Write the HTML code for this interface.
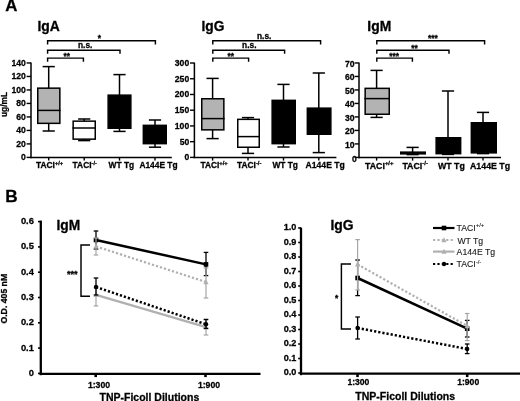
<!DOCTYPE html>
<html><head><meta charset="utf-8"><title>Figure</title>
<style>
html,body{margin:0;padding:0;background:#fff;}
svg{display:block;font-family:'Liberation Sans', sans-serif;}
</style></head><body>
<svg width="520" height="401" viewBox="0 0 520 401">
<defs><filter id="soft" x="-2%" y="-2%" width="104%" height="104%"><feGaussianBlur stdDeviation="0.38"/></filter></defs>
<rect width="520" height="401" fill="#fff"/>
<g filter="url(#soft)">
<text x="5.3" y="11.4" font-size="16.8" text-anchor="start" font-weight="bold" fill="#000" stroke="#000" stroke-width="0.28" >A</text>
<text x="37.5" y="30.7" font-size="13.9" text-anchor="start" font-weight="bold" fill="#000" stroke="#000" stroke-width="0.28" >IgA</text>
<line x1="31" y1="62.6" x2="31" y2="158.15" stroke="#000" stroke-width="1.5" />
<line x1="30.25" y1="157.4" x2="171.8" y2="157.4" stroke="#000" stroke-width="1.5" />
<line x1="26.6" y1="157.4" x2="31" y2="157.4" stroke="#000" stroke-width="1.4" />
<text x="25.8" y="160.4" font-size="8.6" text-anchor="end" font-weight="bold" fill="#000" stroke="#000" stroke-width="0.28" >0</text>
<line x1="26.6" y1="143.91" x2="31" y2="143.91" stroke="#000" stroke-width="1.4" />
<text x="25.8" y="146.91" font-size="8.6" text-anchor="end" font-weight="bold" fill="#000" stroke="#000" stroke-width="0.28" >20</text>
<line x1="26.6" y1="130.42000000000002" x2="31" y2="130.42000000000002" stroke="#000" stroke-width="1.4" />
<text x="25.8" y="133.42000000000002" font-size="8.6" text-anchor="end" font-weight="bold" fill="#000" stroke="#000" stroke-width="0.28" >40</text>
<line x1="26.6" y1="116.93" x2="31" y2="116.93" stroke="#000" stroke-width="1.4" />
<text x="25.8" y="119.93" font-size="8.6" text-anchor="end" font-weight="bold" fill="#000" stroke="#000" stroke-width="0.28" >60</text>
<line x1="26.6" y1="103.44" x2="31" y2="103.44" stroke="#000" stroke-width="1.4" />
<text x="25.8" y="106.44" font-size="8.6" text-anchor="end" font-weight="bold" fill="#000" stroke="#000" stroke-width="0.28" >80</text>
<line x1="26.6" y1="89.95" x2="31" y2="89.95" stroke="#000" stroke-width="1.4" />
<text x="25.8" y="92.95" font-size="8.6" text-anchor="end" font-weight="bold" fill="#000" stroke="#000" stroke-width="0.28" >100</text>
<line x1="26.6" y1="76.46000000000001" x2="31" y2="76.46000000000001" stroke="#000" stroke-width="1.4" />
<text x="25.8" y="79.46000000000001" font-size="8.6" text-anchor="end" font-weight="bold" fill="#000" stroke="#000" stroke-width="0.28" >120</text>
<line x1="26.6" y1="62.97" x2="31" y2="62.97" stroke="#000" stroke-width="1.4" />
<text x="25.8" y="65.97" font-size="8.6" text-anchor="end" font-weight="bold" fill="#000" stroke="#000" stroke-width="0.28" >140</text>
<line x1="48.7" y1="157.4" x2="48.7" y2="160.6" stroke="#000" stroke-width="1.4" />
<line x1="84.2" y1="157.4" x2="84.2" y2="160.6" stroke="#000" stroke-width="1.4" />
<line x1="119.5" y1="157.4" x2="119.5" y2="160.6" stroke="#000" stroke-width="1.4" />
<line x1="155" y1="157.4" x2="155" y2="160.6" stroke="#000" stroke-width="1.4" />
<line x1="48.7" y1="66.6" x2="48.7" y2="131" stroke="#000" stroke-width="1.5" />
<line x1="42.6" y1="66.6" x2="54.800000000000004" y2="66.6" stroke="#000" stroke-width="1.5" />
<line x1="42.6" y1="131" x2="54.800000000000004" y2="131" stroke="#000" stroke-width="1.5" />
<rect x="37.75" y="88.15" width="22.1" height="35.19999999999999" fill="#b3b3b3" stroke="#000" stroke-width="1.5"/>
<line x1="37" y1="110.4" x2="60.6" y2="110.4" stroke="#000" stroke-width="1.5" />
<line x1="84.2" y1="119" x2="84.2" y2="140.6" stroke="#000" stroke-width="1.5" />
<line x1="78.10000000000001" y1="119" x2="90.3" y2="119" stroke="#000" stroke-width="1.5" />
<line x1="78.10000000000001" y1="140.6" x2="90.3" y2="140.6" stroke="#000" stroke-width="1.5" />
<rect x="73.15" y="121.15" width="22.099999999999994" height="18.0" fill="#fff" stroke="#000" stroke-width="1.5"/>
<line x1="72.4" y1="128" x2="96" y2="128" stroke="#000" stroke-width="1.5" />
<line x1="119.5" y1="74.6" x2="119.5" y2="131.4" stroke="#000" stroke-width="1.5" />
<line x1="113.4" y1="74.6" x2="125.6" y2="74.6" stroke="#000" stroke-width="1.5" />
<line x1="113.4" y1="131.4" x2="125.6" y2="131.4" stroke="#000" stroke-width="1.5" />
<rect x="108.15" y="95.15" width="22.69999999999999" height="33.099999999999994" fill="#000" stroke="#000" stroke-width="1.5"/>
<line x1="155" y1="120" x2="155" y2="147.2" stroke="#000" stroke-width="1.5" />
<line x1="148.9" y1="120" x2="161.1" y2="120" stroke="#000" stroke-width="1.5" />
<line x1="148.9" y1="147.2" x2="161.1" y2="147.2" stroke="#000" stroke-width="1.5" />
<rect x="143.35" y="125.35" width="22.900000000000006" height="18.30000000000001" fill="#000" stroke="#000" stroke-width="1.5"/>
<text x="201.5" y="30.5" font-size="13.8" text-anchor="start" font-weight="bold" fill="#000" stroke="#000" stroke-width="0.28" >IgG</text>
<line x1="194.4" y1="62.6" x2="194.4" y2="158.15" stroke="#000" stroke-width="1.5" />
<line x1="193.65" y1="157.4" x2="336.4" y2="157.4" stroke="#000" stroke-width="1.5" />
<line x1="190.0" y1="157.4" x2="194.4" y2="157.4" stroke="#000" stroke-width="1.4" />
<text x="189.20000000000002" y="160.4" font-size="8.6" text-anchor="end" font-weight="bold" fill="#000" stroke="#000" stroke-width="0.28" >0</text>
<line x1="190.0" y1="141.67000000000002" x2="194.4" y2="141.67000000000002" stroke="#000" stroke-width="1.4" />
<text x="189.20000000000002" y="144.67000000000002" font-size="8.6" text-anchor="end" font-weight="bold" fill="#000" stroke="#000" stroke-width="0.28" >50</text>
<line x1="190.0" y1="125.94" x2="194.4" y2="125.94" stroke="#000" stroke-width="1.4" />
<text x="189.20000000000002" y="128.94" font-size="8.6" text-anchor="end" font-weight="bold" fill="#000" stroke="#000" stroke-width="0.28" >100</text>
<line x1="190.0" y1="110.21000000000001" x2="194.4" y2="110.21000000000001" stroke="#000" stroke-width="1.4" />
<text x="189.20000000000002" y="113.21000000000001" font-size="8.6" text-anchor="end" font-weight="bold" fill="#000" stroke="#000" stroke-width="0.28" >150</text>
<line x1="190.0" y1="94.48" x2="194.4" y2="94.48" stroke="#000" stroke-width="1.4" />
<text x="189.20000000000002" y="97.48" font-size="8.6" text-anchor="end" font-weight="bold" fill="#000" stroke="#000" stroke-width="0.28" >200</text>
<line x1="190.0" y1="78.75" x2="194.4" y2="78.75" stroke="#000" stroke-width="1.4" />
<text x="189.20000000000002" y="81.75" font-size="8.6" text-anchor="end" font-weight="bold" fill="#000" stroke="#000" stroke-width="0.28" >250</text>
<line x1="190.0" y1="63.02000000000001" x2="194.4" y2="63.02000000000001" stroke="#000" stroke-width="1.4" />
<text x="189.20000000000002" y="66.02000000000001" font-size="8.6" text-anchor="end" font-weight="bold" fill="#000" stroke="#000" stroke-width="0.28" >300</text>
<line x1="212.6" y1="157.4" x2="212.6" y2="160.6" stroke="#000" stroke-width="1.4" />
<line x1="248" y1="157.4" x2="248" y2="160.6" stroke="#000" stroke-width="1.4" />
<line x1="283.5" y1="157.4" x2="283.5" y2="160.6" stroke="#000" stroke-width="1.4" />
<line x1="318.8" y1="157.4" x2="318.8" y2="160.6" stroke="#000" stroke-width="1.4" />
<line x1="212.6" y1="78.4" x2="212.6" y2="138.6" stroke="#000" stroke-width="1.5" />
<line x1="206.5" y1="78.4" x2="218.7" y2="78.4" stroke="#000" stroke-width="1.5" />
<line x1="206.5" y1="138.6" x2="218.7" y2="138.6" stroke="#000" stroke-width="1.5" />
<rect x="201.75" y="98.75" width="22.099999999999994" height="31.099999999999994" fill="#b3b3b3" stroke="#000" stroke-width="1.5"/>
<line x1="201" y1="118.6" x2="224.6" y2="118.6" stroke="#000" stroke-width="1.5" />
<line x1="248" y1="117.6" x2="248" y2="153.4" stroke="#000" stroke-width="1.5" />
<line x1="241.9" y1="117.6" x2="254.1" y2="117.6" stroke="#000" stroke-width="1.5" />
<line x1="241.9" y1="153.4" x2="254.1" y2="153.4" stroke="#000" stroke-width="1.5" />
<rect x="237.75" y="119.35" width="21.5" height="27.900000000000006" fill="#fff" stroke="#000" stroke-width="1.5"/>
<line x1="237" y1="136.6" x2="260" y2="136.6" stroke="#000" stroke-width="1.5" />
<line x1="283.5" y1="84.4" x2="283.5" y2="147" stroke="#000" stroke-width="1.5" />
<line x1="277.4" y1="84.4" x2="289.6" y2="84.4" stroke="#000" stroke-width="1.5" />
<line x1="277.4" y1="147" x2="289.6" y2="147" stroke="#000" stroke-width="1.5" />
<rect x="272.15" y="100.35" width="23.100000000000023" height="43.30000000000001" fill="#000" stroke="#000" stroke-width="1.5"/>
<line x1="318.8" y1="73" x2="318.8" y2="152.6" stroke="#000" stroke-width="1.5" />
<line x1="312.7" y1="73" x2="324.90000000000003" y2="73" stroke="#000" stroke-width="1.5" />
<line x1="312.7" y1="152.6" x2="324.90000000000003" y2="152.6" stroke="#000" stroke-width="1.5" />
<rect x="307.35" y="108.15" width="23.5" height="26.099999999999994" fill="#000" stroke="#000" stroke-width="1.5"/>
<text x="367.3" y="30.9" font-size="13.9" text-anchor="start" font-weight="bold" fill="#000" stroke="#000" stroke-width="0.28" >IgM</text>
<line x1="359" y1="62.6" x2="359" y2="158.15" stroke="#000" stroke-width="1.5" />
<line x1="358.25" y1="157.4" x2="501" y2="157.4" stroke="#000" stroke-width="1.5" />
<line x1="354.6" y1="157.4" x2="359" y2="157.4" stroke="#000" stroke-width="1.4" />
<text x="356.8" y="162.3" font-size="8.6" text-anchor="end" font-weight="bold" fill="#000" stroke="#000" stroke-width="0.28" >0</text>
<line x1="354.6" y1="143.91" x2="359" y2="143.91" stroke="#000" stroke-width="1.4" />
<text x="354.6" y="147.51" font-size="8.6" text-anchor="end" font-weight="bold" fill="#000" stroke="#000" stroke-width="0.28" >10</text>
<line x1="354.6" y1="130.42000000000002" x2="359" y2="130.42000000000002" stroke="#000" stroke-width="1.4" />
<text x="354.6" y="134.02" font-size="8.6" text-anchor="end" font-weight="bold" fill="#000" stroke="#000" stroke-width="0.28" >20</text>
<line x1="354.6" y1="116.93" x2="359" y2="116.93" stroke="#000" stroke-width="1.4" />
<text x="354.6" y="120.53" font-size="8.6" text-anchor="end" font-weight="bold" fill="#000" stroke="#000" stroke-width="0.28" >30</text>
<line x1="354.6" y1="103.44" x2="359" y2="103.44" stroke="#000" stroke-width="1.4" />
<text x="354.6" y="107.03999999999999" font-size="8.6" text-anchor="end" font-weight="bold" fill="#000" stroke="#000" stroke-width="0.28" >40</text>
<line x1="354.6" y1="89.95" x2="359" y2="89.95" stroke="#000" stroke-width="1.4" />
<text x="354.6" y="93.55" font-size="8.6" text-anchor="end" font-weight="bold" fill="#000" stroke="#000" stroke-width="0.28" >50</text>
<line x1="354.6" y1="76.46000000000001" x2="359" y2="76.46000000000001" stroke="#000" stroke-width="1.4" />
<text x="354.6" y="80.06" font-size="8.6" text-anchor="end" font-weight="bold" fill="#000" stroke="#000" stroke-width="0.28" >60</text>
<line x1="354.6" y1="62.97" x2="359" y2="62.97" stroke="#000" stroke-width="1.4" />
<text x="354.6" y="66.57" font-size="8.6" text-anchor="end" font-weight="bold" fill="#000" stroke="#000" stroke-width="0.28" >70</text>
<line x1="376.6" y1="157.4" x2="376.6" y2="160.6" stroke="#000" stroke-width="1.4" />
<line x1="412.6" y1="157.4" x2="412.6" y2="160.6" stroke="#000" stroke-width="1.4" />
<line x1="448" y1="157.4" x2="448" y2="160.6" stroke="#000" stroke-width="1.4" />
<line x1="483" y1="157.4" x2="483" y2="160.6" stroke="#000" stroke-width="1.4" />
<line x1="376.6" y1="70.4" x2="376.6" y2="117.4" stroke="#000" stroke-width="1.5" />
<line x1="370.5" y1="70.4" x2="382.70000000000005" y2="70.4" stroke="#000" stroke-width="1.5" />
<line x1="370.5" y1="117.4" x2="382.70000000000005" y2="117.4" stroke="#000" stroke-width="1.5" />
<rect x="365.15" y="88.35" width="24.100000000000023" height="25.900000000000006" fill="#b3b3b3" stroke="#000" stroke-width="1.5"/>
<line x1="364.4" y1="98.6" x2="390" y2="98.6" stroke="#000" stroke-width="1.5" />
<line x1="412.6" y1="147.4" x2="412.6" y2="154.6" stroke="#000" stroke-width="1.5" />
<line x1="406.5" y1="147.4" x2="418.70000000000005" y2="147.4" stroke="#000" stroke-width="1.5" />
<line x1="406.5" y1="154.6" x2="418.70000000000005" y2="154.6" stroke="#000" stroke-width="1.5" />
<rect x="400.75" y="152.15" width="24.5" height="1.6999999999999886" fill="#000" stroke="#000" stroke-width="1.5"/>
<line x1="448" y1="91" x2="448" y2="154.4" stroke="#000" stroke-width="1.5" />
<line x1="441.9" y1="91" x2="454.1" y2="91" stroke="#000" stroke-width="1.5" />
<line x1="441.9" y1="154.4" x2="454.1" y2="154.4" stroke="#000" stroke-width="1.5" />
<rect x="436.15" y="137.75" width="24.5" height="15.900000000000006" fill="#000" stroke="#000" stroke-width="1.5"/>
<line x1="483" y1="112.4" x2="483" y2="153.6" stroke="#000" stroke-width="1.5" />
<line x1="476.9" y1="112.4" x2="489.1" y2="112.4" stroke="#000" stroke-width="1.5" />
<line x1="476.9" y1="153.6" x2="489.1" y2="153.6" stroke="#000" stroke-width="1.5" />
<rect x="471.35" y="122.75" width="24.899999999999977" height="30.099999999999994" fill="#000" stroke="#000" stroke-width="1.5"/>
<text x="36" y="168.2" font-size="8.4" text-anchor="start" font-weight="bold" fill="#000" stroke="#000" stroke-width="0.28" >TACI<tspan font-size="68%" dy="-3.5">+/+</tspan></text>
<text x="72.6" y="168.2" font-size="8.4" text-anchor="start" font-weight="bold" fill="#000" stroke="#000" stroke-width="0.28" >TACI<tspan font-size="68%" dy="-3.5">-/-</tspan></text>
<text x="108.6" y="168.2" font-size="8.4" text-anchor="start" font-weight="bold" fill="#000" stroke="#000" stroke-width="0.28" >WT Tg</text>
<text x="139.4" y="168.2" font-size="8.4" text-anchor="start" font-weight="bold" fill="#000" stroke="#000" stroke-width="0.28" >A144E Tg</text>
<text x="200.4" y="168.2" font-size="8.4" text-anchor="start" font-weight="bold" fill="#000" stroke="#000" stroke-width="0.28" >TACI<tspan font-size="68%" dy="-3.5">+/+</tspan></text>
<text x="237" y="168.2" font-size="8.4" text-anchor="start" font-weight="bold" fill="#000" stroke="#000" stroke-width="0.28" >TACI<tspan font-size="68%" dy="-3.5">-/-</tspan></text>
<text x="272.4" y="168.2" font-size="8.4" text-anchor="start" font-weight="bold" fill="#000" stroke="#000" stroke-width="0.28" >WT Tg</text>
<text x="305.6" y="168.2" font-size="8.6" text-anchor="start" font-weight="bold" fill="#000" stroke="#000" stroke-width="0.28" >A144E Tg</text>
<text x="365" y="168.7" font-size="8.8" text-anchor="start" font-weight="bold" fill="#000" stroke="#000" stroke-width="0.28" >TACI<tspan font-size="68%" dy="-3.5">+/+</tspan></text>
<text x="402.4" y="168.7" font-size="8.8" text-anchor="start" font-weight="bold" fill="#000" stroke="#000" stroke-width="0.28" >TACI<tspan font-size="68%" dy="-3.5">-/-</tspan></text>
<text x="438" y="168.7" font-size="8.8" text-anchor="start" font-weight="bold" fill="#000" stroke="#000" stroke-width="0.28" >WT Tg</text>
<text x="470" y="168.7" font-size="8.8" text-anchor="start" font-weight="bold" fill="#000" stroke="#000" stroke-width="0.28" >A144E Tg</text>
<text transform="translate(7.1,104.5) rotate(-90)" font-size="8.4" font-weight="bold" stroke="#000" stroke-width="0.28" text-anchor="middle">ug/mL</text>
<polyline points="47.6,44.4 47.6,40.8 155.4,40.8 155.4,44.4" fill="none" stroke="#000" stroke-width="1.45"/>
<polyline points="47.6,53.800000000000004 47.6,50.2 120,50.2 120,53.800000000000004" fill="none" stroke="#000" stroke-width="1.45"/>
<polyline points="47.6,61.7 47.6,58.1 83.4,58.1 83.4,61.7" fill="none" stroke="#000" stroke-width="1.45"/>
<polyline points="212.8,44.4 212.8,40.8 320.6,40.8 320.6,44.4" fill="none" stroke="#000" stroke-width="1.45"/>
<polyline points="212.8,53.800000000000004 212.8,50.2 284.6,50.2 284.6,53.800000000000004" fill="none" stroke="#000" stroke-width="1.45"/>
<polyline points="212.8,61.7 212.8,58.1 248.6,58.1 248.6,61.7" fill="none" stroke="#000" stroke-width="1.45"/>
<polyline points="376.8,44.4 376.8,40.8 484.6,40.8 484.6,44.4" fill="none" stroke="#000" stroke-width="1.45"/>
<polyline points="376.8,53.800000000000004 376.8,50.2 449,50.2 449,53.800000000000004" fill="none" stroke="#000" stroke-width="1.45"/>
<polyline points="376.8,61.7 376.8,58.1 412.4,58.1 412.4,61.7" fill="none" stroke="#000" stroke-width="1.45"/>
<text x="99.4" y="41.0" font-size="8.4" text-anchor="middle" font-weight="bold" fill="#000" stroke="#000" stroke-width="0.28" >*</text>
<text x="85.2" y="48" font-size="8.4" text-anchor="middle" font-weight="bold" fill="#000" stroke="#000" stroke-width="0.28" >n.s.</text>
<text x="66.8" y="58.7" font-size="8.4" text-anchor="middle" font-weight="bold" fill="#000" stroke="#000" stroke-width="0.28" >**</text>
<text x="264.2" y="38.6" font-size="8.4" text-anchor="middle" font-weight="bold" fill="#000" stroke="#000" stroke-width="0.28" >n.s.</text>
<text x="249.3" y="48" font-size="8.4" text-anchor="middle" font-weight="bold" fill="#000" stroke="#000" stroke-width="0.28" >n.s.</text>
<text x="230.8" y="58.7" font-size="8.4" text-anchor="middle" font-weight="bold" fill="#000" stroke="#000" stroke-width="0.28" >**</text>
<text x="432.8" y="40.9" font-size="8.4" text-anchor="middle" font-weight="bold" fill="#000" stroke="#000" stroke-width="0.28" >***</text>
<text x="414.5" y="50.5" font-size="8.4" text-anchor="middle" font-weight="bold" fill="#000" stroke="#000" stroke-width="0.28" >**</text>
<text x="394.2" y="58.7" font-size="8.4" text-anchor="middle" font-weight="bold" fill="#000" stroke="#000" stroke-width="0.28" >***</text>
<text x="5.3" y="201.6" font-size="17.2" text-anchor="start" font-weight="bold" fill="#000" stroke="#000" stroke-width="0.28" >B</text>
<line x1="40.8" y1="220.6" x2="40.8" y2="375.2" stroke="#000" stroke-width="2.3" />
<line x1="39.6" y1="373.9" x2="260.5" y2="373.9" stroke="#000" stroke-width="2.3" />
<line x1="38" y1="373.4" x2="40.8" y2="373.4" stroke="#000" stroke-width="1.6" />
<text x="33.9" y="375.79999999999995" font-size="9.3" text-anchor="end" font-weight="bold" fill="#000" stroke="#000" stroke-width="0.28" >0</text>
<line x1="38" y1="348.09999999999997" x2="40.8" y2="348.09999999999997" stroke="#000" stroke-width="1.6" />
<text x="33.9" y="350.49999999999994" font-size="9.3" text-anchor="end" font-weight="bold" fill="#000" stroke="#000" stroke-width="0.28" >0.1</text>
<line x1="38" y1="322.79999999999995" x2="40.8" y2="322.79999999999995" stroke="#000" stroke-width="1.6" />
<text x="33.9" y="325.19999999999993" font-size="9.3" text-anchor="end" font-weight="bold" fill="#000" stroke="#000" stroke-width="0.28" >0.2</text>
<line x1="38" y1="297.5" x2="40.8" y2="297.5" stroke="#000" stroke-width="1.6" />
<text x="33.9" y="299.9" font-size="9.3" text-anchor="end" font-weight="bold" fill="#000" stroke="#000" stroke-width="0.28" >0.3</text>
<line x1="38" y1="272.2" x2="40.8" y2="272.2" stroke="#000" stroke-width="1.6" />
<text x="33.9" y="274.59999999999997" font-size="9.3" text-anchor="end" font-weight="bold" fill="#000" stroke="#000" stroke-width="0.28" >0.4</text>
<line x1="38" y1="246.89999999999998" x2="40.8" y2="246.89999999999998" stroke="#000" stroke-width="1.6" />
<text x="33.9" y="249.29999999999998" font-size="9.3" text-anchor="end" font-weight="bold" fill="#000" stroke="#000" stroke-width="0.28" >0.5</text>
<line x1="38" y1="221.59999999999997" x2="40.8" y2="221.59999999999997" stroke="#000" stroke-width="1.6" />
<text x="33.9" y="223.99999999999997" font-size="9.3" text-anchor="end" font-weight="bold" fill="#000" stroke="#000" stroke-width="0.28" >0.6</text>
<line x1="95.7" y1="374.1" x2="95.7" y2="377.1" stroke="#000" stroke-width="2.6" />
<line x1="205.5" y1="374.1" x2="205.5" y2="377.1" stroke="#000" stroke-width="2.6" />
<text x="99" y="388.0" font-size="8.7" text-anchor="middle" font-weight="bold" fill="#000" stroke="#000" stroke-width="0.28" >1:300</text>
<text x="209" y="387.9" font-size="8.7" text-anchor="middle" font-weight="bold" fill="#000" stroke="#000" stroke-width="0.28" >1:900</text>
<text x="149.4" y="400.6" font-size="10.5" text-anchor="middle" font-weight="bold" fill="#000" stroke="#000" stroke-width="0.28" >TNP-Ficoll Dilutions</text>
<text transform="translate(6.5,298.7) rotate(-90)" font-size="8.7" font-weight="bold" stroke="#000" stroke-width="0.28" text-anchor="middle">O.D. 405 nM</text>
<text x="56.5" y="230" font-size="13.8" text-anchor="start" font-weight="bold" fill="#000" stroke="#000" stroke-width="0.28" >IgM</text>
<line x1="96" y1="231" x2="96" y2="249" stroke="#000" stroke-width="1.3" />
<line x1="93.7" y1="231" x2="98.3" y2="231" stroke="#000" stroke-width="1.3" />
<line x1="93.7" y1="249" x2="98.3" y2="249" stroke="#000" stroke-width="1.3" />
<line x1="206" y1="252.4" x2="206" y2="275.6" stroke="#000" stroke-width="1.3" />
<line x1="203.7" y1="252.4" x2="208.3" y2="252.4" stroke="#000" stroke-width="1.3" />
<line x1="203.7" y1="275.6" x2="208.3" y2="275.6" stroke="#000" stroke-width="1.3" />
<line x1="96" y1="240" x2="206" y2="264.4" stroke="#000" stroke-width="2.5" />
<rect x="93.7" y="237.7" width="4.6" height="4.6" fill="#000"/>
<rect x="203.7" y="262.09999999999997" width="4.6" height="4.6" fill="#000"/>
<line x1="96" y1="238" x2="96" y2="255" stroke="#a6a6a6" stroke-width="1.2" />
<line x1="93.7" y1="238" x2="98.3" y2="238" stroke="#a6a6a6" stroke-width="1.2" />
<line x1="93.7" y1="255" x2="98.3" y2="255" stroke="#a6a6a6" stroke-width="1.2" />
<line x1="206" y1="268" x2="206" y2="298" stroke="#a6a6a6" stroke-width="1.2" />
<line x1="203.7" y1="268" x2="208.3" y2="268" stroke="#a6a6a6" stroke-width="1.2" />
<line x1="203.7" y1="298" x2="208.3" y2="298" stroke="#a6a6a6" stroke-width="1.2" />
<line x1="96" y1="246.4" x2="206" y2="282" stroke="#b0b0b0" stroke-width="2.2" stroke-dasharray="2.2 2.0"/>
<polygon points="93.4,248.6 98.6,248.6 96,243.6" fill="#b0b0b0"/>
<polygon points="203.4,284.2 208.6,284.2 206,279.2" fill="#b0b0b0"/>
<line x1="96" y1="288" x2="96" y2="306" stroke="#a6a6a6" stroke-width="1.2" />
<line x1="93.7" y1="288" x2="98.3" y2="288" stroke="#a6a6a6" stroke-width="1.2" />
<line x1="93.7" y1="306" x2="98.3" y2="306" stroke="#a6a6a6" stroke-width="1.2" />
<line x1="206" y1="320" x2="206" y2="335" stroke="#a6a6a6" stroke-width="1.2" />
<line x1="203.7" y1="320" x2="208.3" y2="320" stroke="#a6a6a6" stroke-width="1.2" />
<line x1="203.7" y1="335" x2="208.3" y2="335" stroke="#a6a6a6" stroke-width="1.2" />
<line x1="96" y1="294.8" x2="206" y2="327.2" stroke="#b0b0b0" stroke-width="2.4" />
<polygon points="93.4,297.0 98.6,297.0 96,292.0" fill="#b0b0b0"/>
<polygon points="203.4,329.4 208.6,329.4 206,324.4" fill="#b0b0b0"/>
<line x1="96" y1="278" x2="96" y2="295" stroke="#000" stroke-width="1.3" />
<line x1="93.7" y1="278" x2="98.3" y2="278" stroke="#000" stroke-width="1.3" />
<line x1="93.7" y1="295" x2="98.3" y2="295" stroke="#000" stroke-width="1.3" />
<line x1="206" y1="319.4" x2="206" y2="328.4" stroke="#000" stroke-width="1.3" />
<line x1="203.7" y1="319.4" x2="208.3" y2="319.4" stroke="#000" stroke-width="1.3" />
<line x1="203.7" y1="328.4" x2="208.3" y2="328.4" stroke="#000" stroke-width="1.3" />
<line x1="96" y1="287" x2="206" y2="324.3" stroke="#000" stroke-width="2.5" stroke-dasharray="2.2 2.0"/>
<circle cx="96" cy="287" r="2.2" fill="#000"/>
<circle cx="206" cy="324.3" r="2.2" fill="#000"/>
<polyline points="90,245 81,245 81,296.3 90,296.3" fill="none" stroke="#000" stroke-width="1.45"/>
<text x="72.3" y="276.6" font-size="9.2" text-anchor="middle" font-weight="bold" fill="#000" stroke="#000" stroke-width="0.28" >***</text>
<line x1="301" y1="227.6" x2="301" y2="375.2" stroke="#000" stroke-width="2.3" />
<line x1="299.9" y1="373.7" x2="520" y2="373.7" stroke="#000" stroke-width="2.3" />
<line x1="298.2" y1="373.0" x2="301" y2="373.0" stroke="#000" stroke-width="1.6" />
<text x="296.3" y="375.1" font-size="9.1" text-anchor="end" font-weight="bold" fill="#000" stroke="#000" stroke-width="0.28" >0.0</text>
<line x1="298.2" y1="358.5" x2="301" y2="358.5" stroke="#000" stroke-width="1.6" />
<text x="296.3" y="360.6" font-size="9.1" text-anchor="end" font-weight="bold" fill="#000" stroke="#000" stroke-width="0.28" >0.1</text>
<line x1="298.2" y1="344.0" x2="301" y2="344.0" stroke="#000" stroke-width="1.6" />
<text x="296.3" y="346.1" font-size="9.1" text-anchor="end" font-weight="bold" fill="#000" stroke="#000" stroke-width="0.28" >0.2</text>
<line x1="298.2" y1="329.5" x2="301" y2="329.5" stroke="#000" stroke-width="1.6" />
<text x="296.3" y="331.6" font-size="9.1" text-anchor="end" font-weight="bold" fill="#000" stroke="#000" stroke-width="0.28" >0.3</text>
<line x1="298.2" y1="315.0" x2="301" y2="315.0" stroke="#000" stroke-width="1.6" />
<text x="296.3" y="317.1" font-size="9.1" text-anchor="end" font-weight="bold" fill="#000" stroke="#000" stroke-width="0.28" >0.4</text>
<line x1="298.2" y1="300.5" x2="301" y2="300.5" stroke="#000" stroke-width="1.6" />
<text x="296.3" y="302.6" font-size="9.1" text-anchor="end" font-weight="bold" fill="#000" stroke="#000" stroke-width="0.28" >0.5</text>
<line x1="298.2" y1="286.0" x2="301" y2="286.0" stroke="#000" stroke-width="1.6" />
<text x="296.3" y="288.1" font-size="9.1" text-anchor="end" font-weight="bold" fill="#000" stroke="#000" stroke-width="0.28" >0.6</text>
<line x1="298.2" y1="271.5" x2="301" y2="271.5" stroke="#000" stroke-width="1.6" />
<text x="296.3" y="273.6" font-size="9.1" text-anchor="end" font-weight="bold" fill="#000" stroke="#000" stroke-width="0.28" >0.7</text>
<line x1="298.2" y1="257.0" x2="301" y2="257.0" stroke="#000" stroke-width="1.6" />
<text x="296.3" y="259.1" font-size="9.1" text-anchor="end" font-weight="bold" fill="#000" stroke="#000" stroke-width="0.28" >0.8</text>
<line x1="298.2" y1="242.5" x2="301" y2="242.5" stroke="#000" stroke-width="1.6" />
<text x="296.3" y="244.6" font-size="9.1" text-anchor="end" font-weight="bold" fill="#000" stroke="#000" stroke-width="0.28" >0.9</text>
<line x1="298.2" y1="228.0" x2="301" y2="228.0" stroke="#000" stroke-width="1.6" />
<text x="296.3" y="230.1" font-size="9.1" text-anchor="end" font-weight="bold" fill="#000" stroke="#000" stroke-width="0.28" >1.0</text>
<line x1="357.5" y1="374.1" x2="357.5" y2="377.1" stroke="#000" stroke-width="2.6" />
<line x1="467.2" y1="374.1" x2="467.2" y2="377.1" stroke="#000" stroke-width="2.6" />
<text x="358.4" y="385.2" font-size="8.6" text-anchor="middle" font-weight="bold" fill="#000" stroke="#000" stroke-width="0.28" >1:300</text>
<text x="468.2" y="385.2" font-size="8.6" text-anchor="middle" font-weight="bold" fill="#000" stroke="#000" stroke-width="0.28" >1:900</text>
<text x="405.2" y="399.8" font-size="10.5" text-anchor="middle" font-weight="bold" fill="#000" stroke="#000" stroke-width="0.28" >TNP-Ficoll Dilutions</text>
<text x="330.5" y="230" font-size="13.9" text-anchor="start" font-weight="bold" fill="#000" stroke="#000" stroke-width="0.28" >IgG</text>
<line x1="357.6" y1="260" x2="357.6" y2="295.6" stroke="#000" stroke-width="1.3" />
<line x1="355.3" y1="260" x2="359.90000000000003" y2="260" stroke="#000" stroke-width="1.3" />
<line x1="355.3" y1="295.6" x2="359.90000000000003" y2="295.6" stroke="#000" stroke-width="1.3" />
<line x1="467.2" y1="320.4" x2="467.2" y2="337" stroke="#000" stroke-width="1.3" />
<line x1="464.9" y1="320.4" x2="469.5" y2="320.4" stroke="#000" stroke-width="1.3" />
<line x1="464.9" y1="337" x2="469.5" y2="337" stroke="#000" stroke-width="1.3" />
<line x1="357.6" y1="278" x2="467.2" y2="328.7" stroke="#000" stroke-width="2.5" />
<rect x="355.3" y="275.7" width="4.6" height="4.6" fill="#000"/>
<rect x="464.9" y="326.4" width="4.6" height="4.6" fill="#000"/>
<line x1="357.6" y1="239.6" x2="357.6" y2="290" stroke="#a6a6a6" stroke-width="1.2" />
<line x1="355.3" y1="239.6" x2="359.90000000000003" y2="239.6" stroke="#a6a6a6" stroke-width="1.2" />
<line x1="355.3" y1="290" x2="359.90000000000003" y2="290" stroke="#a6a6a6" stroke-width="1.2" />
<line x1="467.2" y1="313.5" x2="467.2" y2="340.6" stroke="#a6a6a6" stroke-width="1.2" />
<line x1="464.9" y1="313.5" x2="469.5" y2="313.5" stroke="#a6a6a6" stroke-width="1.2" />
<line x1="464.9" y1="340.6" x2="469.5" y2="340.6" stroke="#a6a6a6" stroke-width="1.2" />
<line x1="357.6" y1="264.4" x2="467.2" y2="326" stroke="#b0b0b0" stroke-width="2.2" stroke-dasharray="2.2 2.0"/>
<polygon points="355.0,266.59999999999997 360.20000000000005,266.59999999999997 357.6,261.59999999999997" fill="#b0b0b0"/>
<polygon points="464.59999999999997,328.2 469.8,328.2 467.2,323.2" fill="#b0b0b0"/>
<line x1="357.6" y1="317" x2="357.6" y2="339" stroke="#000" stroke-width="1.3" />
<line x1="355.3" y1="317" x2="359.90000000000003" y2="317" stroke="#000" stroke-width="1.3" />
<line x1="355.3" y1="339" x2="359.90000000000003" y2="339" stroke="#000" stroke-width="1.3" />
<line x1="467.2" y1="344" x2="467.2" y2="353.6" stroke="#000" stroke-width="1.3" />
<line x1="464.9" y1="344" x2="469.5" y2="344" stroke="#000" stroke-width="1.3" />
<line x1="464.9" y1="353.6" x2="469.5" y2="353.6" stroke="#000" stroke-width="1.3" />
<line x1="357.6" y1="328" x2="467.2" y2="349" stroke="#000" stroke-width="2.5" stroke-dasharray="2.2 2.0"/>
<circle cx="357.6" cy="328" r="2.2" fill="#000"/>
<circle cx="467.2" cy="349" r="2.2" fill="#000"/>
<polyline points="351,264 341.4,264 341.4,329 351,329" fill="none" stroke="#000" stroke-width="1.45"/>
<text x="336.6" y="301.1" font-size="8.4" text-anchor="middle" font-weight="bold" fill="#000" stroke="#000" stroke-width="0.28" >*</text>
<line x1="433" y1="228" x2="454.5" y2="228" stroke="#000" stroke-width="2.2" />
<rect x="441.7" y="225.7" width="4.6" height="4.6" fill="#000"/>
<text x="456.6" y="230.5" font-size="8.7" text-anchor="start" font-weight="normal" fill="#1a1a1a" stroke="#1a1a1a" stroke-width="0.12" >TACI<tspan font-size="68%" dy="-3.5">+/+</tspan></text>
<line x1="433" y1="240" x2="454.5" y2="240" stroke="#b0b0b0" stroke-width="2.2" stroke-dasharray="2.2 2.2"/>
<polygon points="441.4,242.2 446.6,242.2 444,237.2" fill="#b0b0b0"/>
<text x="457.4" y="243.9" font-size="8.7" text-anchor="start" font-weight="normal" fill="#1a1a1a" stroke="#1a1a1a" stroke-width="0.12" >WT Tg</text>
<line x1="433" y1="251.6" x2="454.5" y2="251.6" stroke="#b0b0b0" stroke-width="2.2" />
<polygon points="441.4,253.79999999999998 446.6,253.79999999999998 444,248.79999999999998" fill="#b0b0b0"/>
<text x="456.6" y="255" font-size="8.7" text-anchor="start" font-weight="normal" fill="#1a1a1a" stroke="#1a1a1a" stroke-width="0.12" >A144E Tg</text>
<line x1="433" y1="264" x2="454.5" y2="264" stroke="#000" stroke-width="2.2" stroke-dasharray="2.2 2.2"/>
<circle cx="444" cy="264" r="2.2" fill="#000"/>
<text x="456.6" y="267.3" font-size="8.7" text-anchor="start" font-weight="normal" fill="#1a1a1a" stroke="#1a1a1a" stroke-width="0.12" >TACI<tspan font-size="68%" dy="-3.5">-/-</tspan></text>
</g>
</svg>
</body></html>
